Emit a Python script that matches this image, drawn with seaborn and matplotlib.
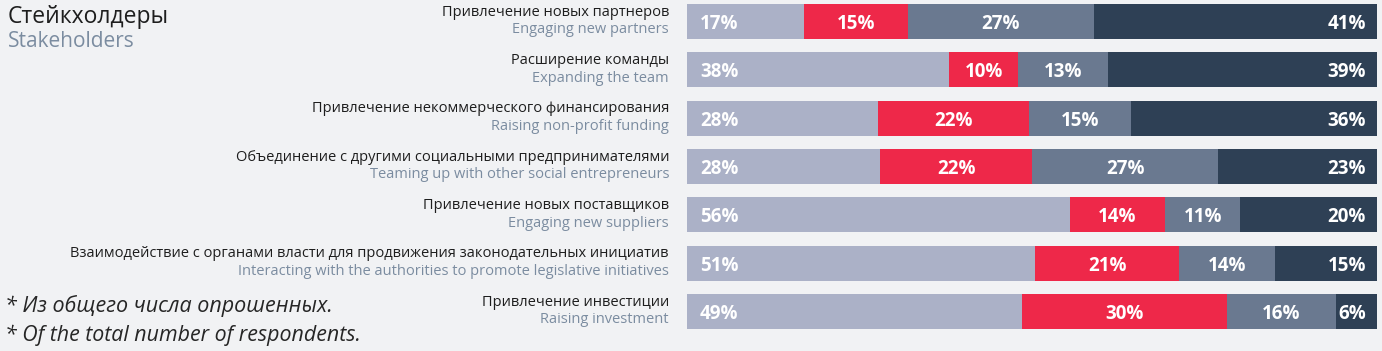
import matplotlib.pyplot as plt
import matplotlib.transforms as mtransforms
import numpy as np
import pandas as pd
import seaborn as sns

# rows, top to bottom
labels_ru = [
    "Привлечение новых партнеров",
    "Расширение команды",
    "Привлечение некоммерческого финансирования",
    "Объединение с другими социальными предпринимателями",
    "Привлечение новых поставщиков",
    "Взаимодействие с органами власти для продвижения законодательных инициатив",
    "Привлечение инвестиции",
]
labels_en = [
    "Engaging new partners",
    "Expanding the team",
    "Raising non-profit funding",
    "Teaming up with other social entrepreneurs",
    "Engaging new suppliers",
    "Interacting with the authorities to promote legislative initiatives",
    "Raising investment",
]
# four answer groups, left to right
seg1 = [17, 38, 28, 28, 56, 51, 49]
seg2 = [15, 10, 22, 22, 14, 21, 30]
seg3 = [27, 13, 15, 27, 11, 14, 16]
seg4 = [41, 39, 36, 23, 20, 15, 6]

colors = ["#abb1c7", "#ee2849", "#6a7990", "#2e4055"]
bg = "#f1f2f4"

sns.set_theme(style="white")
plt.rcParams["font.family"] = ["Open Sans", "DejaVu Sans"]

df = pd.DataFrame({"en": labels_en, "s1": seg1, "s2": seg2, "s3": seg3, "s4": seg4})
segs = ["s1", "s2", "s3", "s4"]
total = df[segs].sum(axis=1)
share = df[segs].div(total, axis=0) * 100
cum = share.cumsum(axis=1)
start = cum - share

fig = plt.figure(figsize=(13.82, 3.51), dpi=100, facecolor=bg)
ax = fig.add_axes([687 / 1382, 0.0575, 690 / 1382, 0.9364])
ax.set_facecolor(bg)

# draw stacked bars back to front
for col, c in reversed(list(zip(segs, colors))):
    sns.barplot(x=cum[col], y=df["en"], order=labels_en, orient="h", color=c,
                saturation=1, width=0.724, ax=ax, linewidth=0)

ax.set_xlim(0, 100)
ax.set_ylim(6.4, -0.4)
ax.axis("off")

def off(dx, dy):
    return mtransforms.offset_copy(ax.transData, fig=fig, x=dx, y=-dy, units="dots")

# percent labels
for i in range(len(labels_en)):
    for j, col in enumerate(segs):
        txt = f"{df[col][i]}%"
        if j == 0:
            ax.text(start[col][i], i, txt, transform=off(13, 7.5), ha="left", va="baseline",
                    color="white", fontsize=13.5, fontweight="bold")
        elif j == 3:
            ax.text(cum[col][i], i, txt, transform=off(-11, 7.5), ha="right", va="baseline",
                    color="white", fontsize=13.5, fontweight="bold")
        else:
            ax.text(start[col][i] + share[col][i] / 2, i, txt, transform=off(0, 7.5),
                    ha="center", va="baseline", color="white", fontsize=13.5, fontweight="bold")

# row labels
lab_tr = mtransforms.blended_transform_factory(ax.transAxes, ax.transData)
for i in range(len(labels_en)):
    ax.text(-18 / 690, i, labels_ru[i], ha="right", va="baseline", fontsize=10.5,
            color="#1e1e1e", transform=mtransforms.offset_copy(lab_tr, fig=fig, y=5.8, units="dots"))
    ax.text(-18 / 690, i, labels_en[i], ha="right", va="baseline", fontsize=10.5,
            color="#7b8ca0", transform=mtransforms.offset_copy(lab_tr, fig=fig, y=-12, units="dots"))

# title and note
fig.text(8 / 1382, 1 - 22.7 / 351, "Стейкхолдеры", fontsize=16.5, color="#1e1e1e", va="baseline")
fig.text(8 / 1382, 1 - 47 / 351, "Stakeholders", fontsize=15, color="#7b8ca0", va="baseline")
fig.text(5 / 1382, 1 - 311.7 / 351, "* Из общего числа опрошенных.", fontsize=15.5,
         style="italic", color="#262626", va="baseline")
fig.text(5 / 1382, 1 - 341 / 351, "* Of the total number of respondents.", fontsize=15.4,
         style="italic", color="#262626", va="baseline")

fig.savefig("out.png", dpi=100, facecolor=bg)
